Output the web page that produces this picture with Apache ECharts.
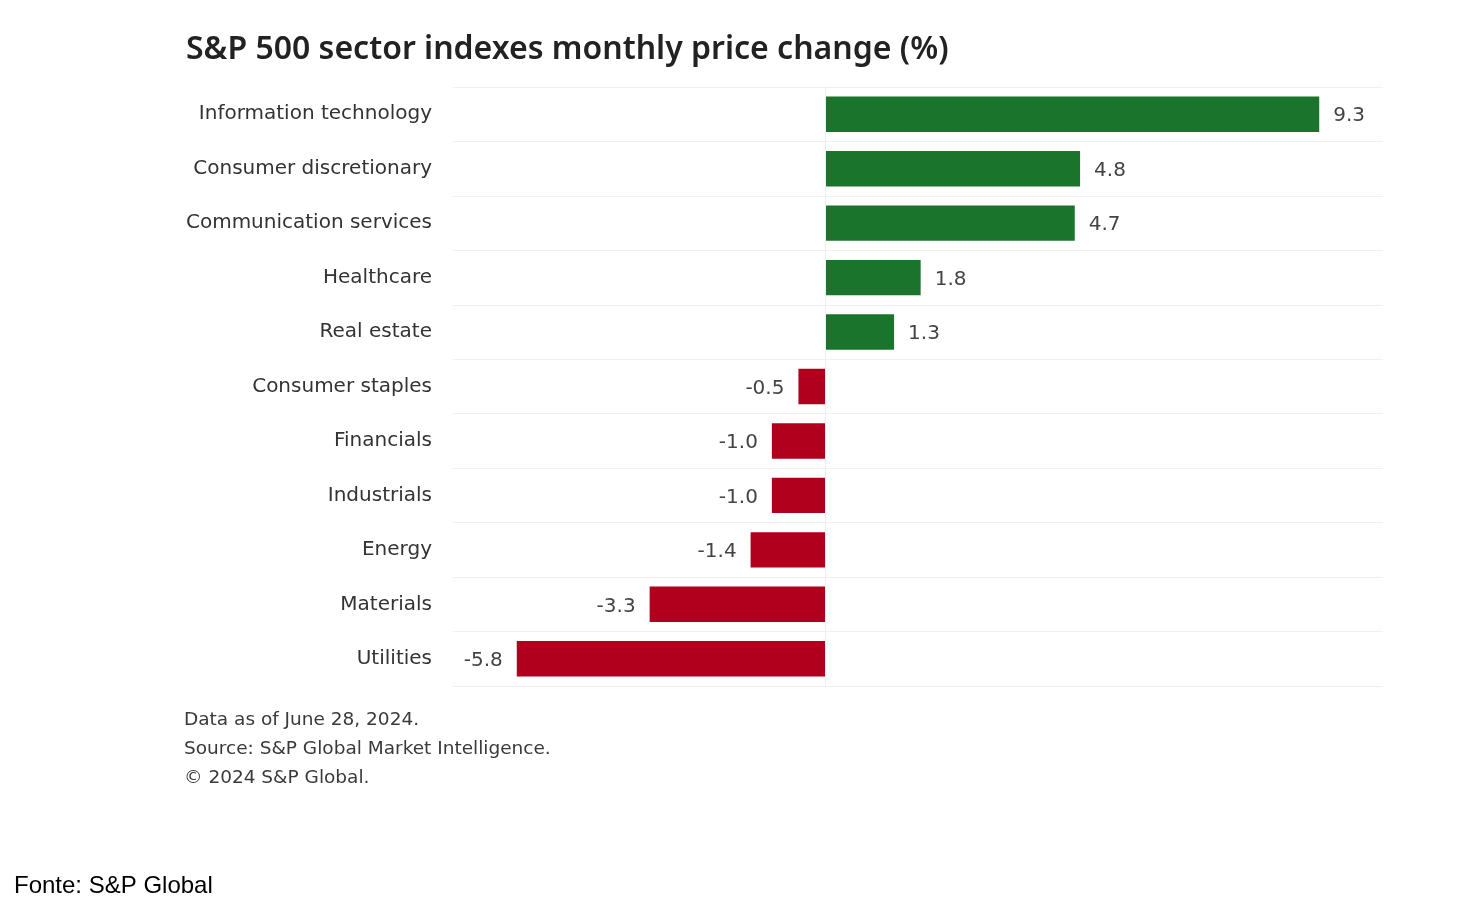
<!DOCTYPE html>
<html>
<head>
<meta charset="utf-8">
<title>S&amp;P 500 sector indexes monthly price change</title>
<script src="https://cdn.jsdelivr.net/npm/echarts@6/dist/echarts.min.js"></script>
<style>
    html, body { margin: 0; padding: 0; background: #fff; }
    #chart { width: 1480px; height: 908px; }
</style>
</head>
<body>
<div id="chart"></div>
<script>
'use strict';

var sectors = [
    'Information technology',
    'Consumer discretionary',
    'Communication services',
    'Healthcare',
    'Real estate',
    'Consumer staples',
    'Financials',
    'Industrials',
    'Energy',
    'Materials',
    'Utilities'
];
var changes = [9.3, 4.8, 4.7, 1.8, 1.3, -0.5, -1.0, -1.0, -1.4, -3.3, -5.8];

var notes = [
    'Data as of June 28, 2024.',
    'Source: S&P Global Market Intelligence.',
    '\u00a9 2024 S&P Global.'
];

var upColor = '#1b742b';
var downColor = '#b0001e';
var titleFont = '"Noto Sans", sans-serif';
var textFont = '"DejaVu Sans", sans-serif';

var renderChart = function () {
    var myChart = echarts.init(document.getElementById('chart'));

    var barData = changes.map(function (v) {
        return {
            value: v,
            itemStyle: { color: v >= 0 ? upColor : downColor },
            label: { position: v >= 0 ? 'right' : 'left' }
        };
    });

    var noteText = notes.map(function (t, i) {
        return {
            type: 'text',
            left: 184,
            top: 711 + i * 29,
            style: {
                text: t,
                font: '18.5px ' + textFont,
                fill: '#3a3a3a'
            }
        };
    });

    var option = {
        backgroundColor: '#fff',
        animation: false,
        title: {
            text: 'S&P 500 sector indexes monthly price change (%)',
            left: 181,
            top: 29,
            textStyle: {
                fontFamily: titleFont,
                fontSize: 32,
                fontWeight: 600,
                color: '#222'
            }
        },
        grid: {
            left: 453,
            right: 97,
            top: 87,
            bottom: 222
        },
        xAxis: {
            type: 'value',
            min: -7,
            max: 10.5,
            axisLine: { show: false },
            axisTick: { show: false },
            axisLabel: { show: false },
            splitLine: { show: false }
        },
        yAxis: {
            type: 'category',
            inverse: true,
            data: sectors,
            axisLine: { show: false },
            axisTick: { show: false },
            axisLabel: {
                margin: 21,
                padding: [4, 0, 0, 0],
                fontFamily: textFont,
                fontSize: 20,
                color: '#333'
            },
            splitLine: {
                show: true,
                lineStyle: { color: '#f0f0f0', width: 1 }
            }
        },
        series: [
            {
                name: 'Monthly price change',
                type: 'bar',
                data: barData,
                barWidth: '65%',
                label: {
                    show: true,
                    distance: 14,
                    offset: [0, 2],
                    fontFamily: textFont,
                    fontSize: 20,
                    color: '#444',
                    formatter: function (p) {
                        return p.value.toFixed(1);
                    }
                },
                markLine: {
                    silent: true,
                    symbol: 'none',
                    label: { show: false },
                    lineStyle: { color: '#eeeeee', type: 'solid', width: 1 },
                    data: [{ xAxis: 0 }]
                }
            }
        ],
        graphic: noteText.concat([
            {
                type: 'text',
                left: 14,
                top: 874,
                style: {
                    text: 'Fonte: S&P Global',
                    font: '24px "Liberation Sans", Arial, sans-serif',
                    fill: '#000'
                }
            }
        ])
    };

    myChart.setOption(option, true);
    return myChart;
};

renderChart();
</script>
</body>
</html>
